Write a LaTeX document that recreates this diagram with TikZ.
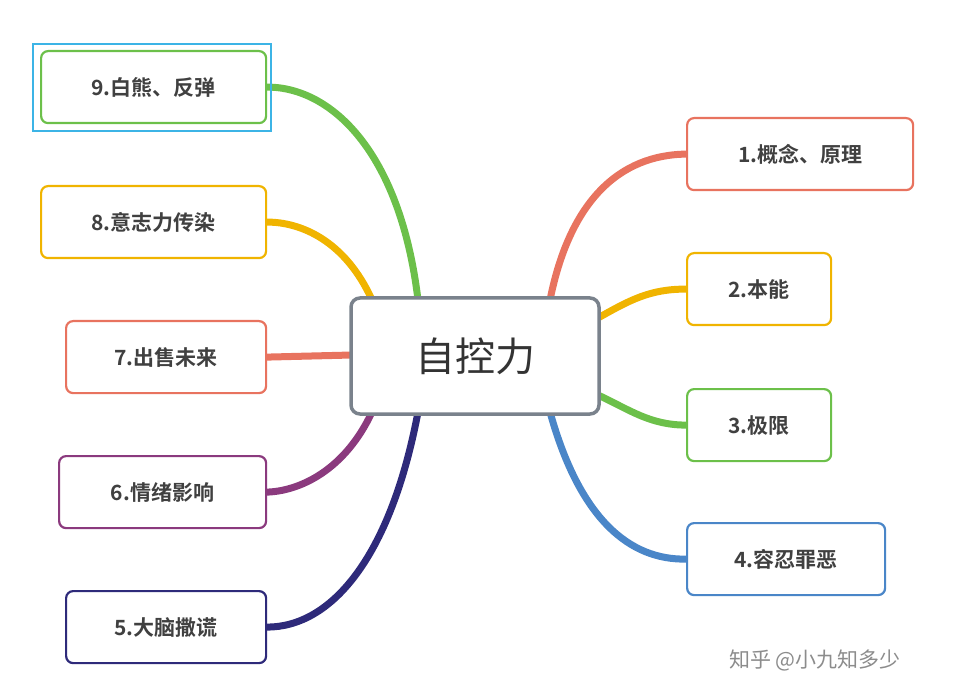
\documentclass[tikz,border=0pt]{standalone}
\usepackage{fontspec}
\newfontfamily\cjk{Noto Sans CJK SC}[BoldFont={Noto Sans CJK SC Bold}]
\usetikzlibrary{backgrounds}
\begin{document}
\begin{tikzpicture}[x=1pt,y=-1pt,
  box/.style={draw=#1,line width=2.2pt,rounded corners=7pt,fill=white,minimum height=72pt,font=\cjk\bfseries\fontsize{21}{24}\selectfont,text=black!75,anchor=north west,inner sep=0pt},
  br/.style={draw=#1,line width=7pt,line cap=round}]
\definecolor{cr}{HTML}{E8735F}\definecolor{cy}{HTML}{F0B400}\definecolor{cg}{HTML}{6CC04A}
\definecolor{cb}{HTML}{4A86C8}\definecolor{cp}{HTML}{8B3A7E}\definecolor{cn}{HTML}{2E2A7A}
\definecolor{cc}{HTML}{3CB4E6}\definecolor{cgr}{HTML}{7A828C}
\useasboundingbox (0,0) rectangle (955,700);
\node[draw=cc,line width=2pt,minimum width=238pt,minimum height=87pt,anchor=north west,inner sep=0pt] (hl) at (32,43) {};
\coordinate (c1) at (550,300);\coordinate (c2) at (598,318);\coordinate (c3) at (598,395);\coordinate (c4) at (550,412);
\coordinate (c9) at (418,300);\coordinate (c8) at (372,300);\coordinate (c7) at (352,355);\coordinate (c6) at (372,412);\coordinate (c5) at (418,412);
\node[box=cr,minimum width=226pt] (n1) at (686,117) {1.概念、原理};
\node[box=cy,minimum width=144pt] (n2) at (686,252) {2.本能};
\node[box=cg,minimum width=144pt] (n3) at (686,388) {3.极限};
\node[box=cb,minimum width=198pt] (n4) at (686,522) {4.容忍罪恶};
\node[box=cg,minimum width=225pt] (n9) at (40,50) {9.白熊、反弹};
\node[box=cy,minimum width=225pt] (n8) at (40,185) {8.意志力传染};
\node[box=cr,minimum width=200pt] (n7) at (65,320) {7.出售未来};
\node[box=cp,minimum width=207pt] (n6) at (58,455) {6.情绪影响};
\node[box=cn,minimum width=200pt] (n5) at (65,590) {5.大脑撒谎};
\begin{scope}[on background layer]
\draw[br=cr] (c1) .. controls (570,200) and (620,155) .. (n1.west);
\draw[br=cy] (c2) .. controls (630,300) and (650,289) .. (n2.west);
\draw[br=cg] (c3) .. controls (630,410) and (650,425) .. (n3.west);
\draw[br=cb] (c4) .. controls (580,520) and (630,560) .. (n4.west);
\draw[br=cg] (c9) .. controls (400,150) and (330,87) .. (n9.east);
\draw[br=cy] (c8) .. controls (345,240) and (300,222) .. (n8.east);
\draw[br=cr] (c7) -- (n7.east);
\draw[br=cp] (c6) .. controls (345,470) and (300,491) .. (n6.east);
\draw[br=cn] (c5) .. controls (390,560) and (330,627) .. (n5.east);
\end{scope}
\node[draw=cgr,line width=3.5pt,rounded corners=9pt,fill=white,minimum width=248pt,minimum height=116pt,font=\cjk\fontsize{40}{44}\selectfont,text=black!80] (c) at (475,356) {自控力};
\node[font=\cjk\fontsize{21}{24}\selectfont,text=black!45] (wm) at (815,660) {知乎 @小九知多少};
\end{tikzpicture}
\end{document}
